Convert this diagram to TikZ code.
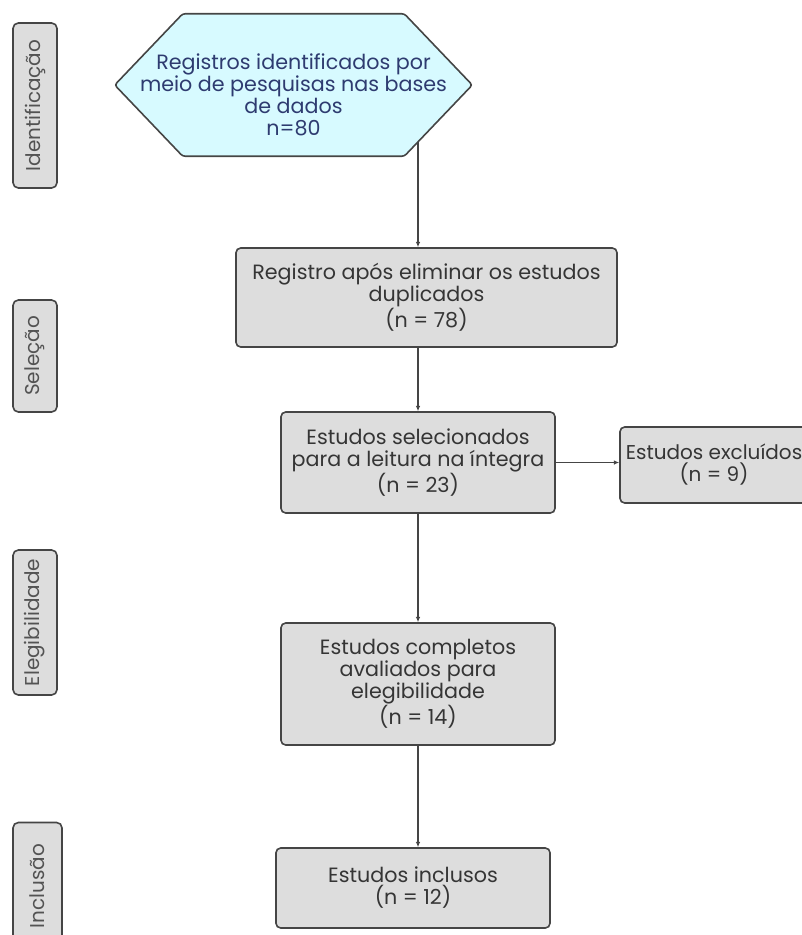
\documentclass[tikz,border=0pt]{standalone}
\usepackage{fontspec}
\setmainfont{Poppins}
\definecolor{BoxGrey}{HTML}{DDDDDD}
\definecolor{LineGrey}{HTML}{454545}
\definecolor{TextGrey}{HTML}{353535}
\definecolor{HexCyan}{HTML}{D7FAFF}
\definecolor{HexBlue}{HTML}{2E3B70}
\usetikzlibrary{arrows.meta,backgrounds}

\begin{document}
\begin{tikzpicture}[
        x=0.75pt, y=-0.75pt,
        font=\fontsize{15.5}{16.5}\selectfont,
        process/.style={rectangle, draw=LineGrey, fill=BoxGrey, line width=1.2pt,
                        rounded corners=3.5pt, text=TextGrey, align=center, inner sep=2pt},
        phase/.style={rectangle, draw=LineGrey, fill=BoxGrey, line width=1.2pt,
                      rounded corners=4pt, text=TextGrey!85, rotate=90, inner sep=1pt,
                      font=\fontsize{15}{16.5}\selectfont},
        hexa/.style={rectangle, text=HexBlue, inner sep=0pt},
        hexline/.style={draw=LineGrey, fill=HexCyan, line width=1.2pt, rounded corners=2pt},
        arrow/.style={draw=LineGrey, line width=0.8pt, -{Latex[length=4pt,width=3.5pt]}}
    ]
        \useasboundingbox (0,0) rectangle (802,935);

        % fases
        \node[phase, minimum width=123.75pt, minimum height=33pt]    (fase1) at (35,105.5) {Identificação};
        \node[phase, minimum width=84pt, minimum height=33pt]        (fase2) at (35,356)   {Seleção};
        \node[phase, minimum width=108.75pt, minimum height=33pt]    (fase3) at (35,622.5) {Elegibilidade};
        \node[phase, minimum width=95.25pt, minimum height=36.75pt]  (fase4) at (37.5,886) {Inclusão};

        % fluxo
        \node[hexa, minimum width=165.75pt, minimum height=106.5pt] (busca) at (293.5,85)
            {\makebox[160pt]{\begin{tabular}{@{}c@{}}\rule{0pt}{31pt}Registros identificados por\\
             meio de pesquisas nas bases\\ de dados\\ n=80\end{tabular}}};
        \node[process, minimum width=285.75pt, minimum height=74.25pt] (dupl)  at (426.5,297.5)
            {Registro após eliminar os estudos\\ duplicados\\ (n = 78)};
        \node[process, minimum width=205.5pt, minimum height=75.75pt]  (selec) at (418,462.5)
            {Estudos selecionados\\ para a leitura na íntegra\\ (n = 23)};
        \node[process, minimum width=141pt, minimum height=57pt,
              font=\fontsize{15}{16.5}\selectfont]                      (excl)  at (714,465)
            {Estudos excluídos\\ (n = 9)};
        \node[process, minimum width=205.5pt, minimum height=91.5pt]   (eleg)  at (418,684)
            {Estudos completos\\ avaliados para\\ elegibilidade\\ (n = 14)};
        \node[process, minimum width=205.5pt, minimum height=60pt]     (incl)  at (413,888)
            {Estudos inclusos\\ (n = 12)};

        \begin{scope}[on background layer]
            \path[arrow] (selec.north |- busca.center) -- (selec.north |- dupl.north);
            \path[hexline] (busca.north west) -- (busca.north east) -- ([xshift=51pt]busca.east)
                -- (busca.south east) -- (busca.south west) -- ([xshift=-51pt]busca.west) -- cycle;
        \end{scope}
        \path[arrow] (dupl.south -| selec.north) -- (selec.north);
        \path[arrow] (selec.east) -- (selec.east -| excl.west);
        \path[arrow] (selec.south) -- (eleg.north);
        \path[arrow] (eleg.south)  -- (eleg.south |- incl.north);
    \end{tikzpicture}
\end{document}
